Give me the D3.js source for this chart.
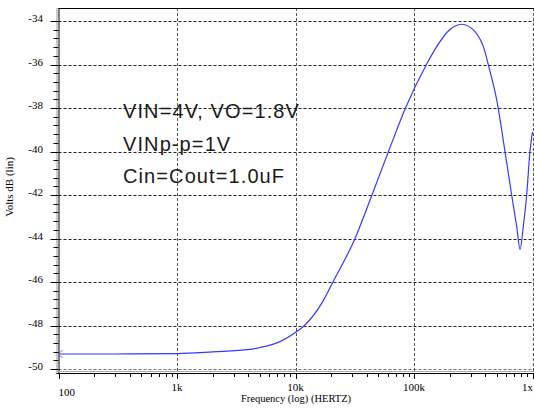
<!DOCTYPE html>
<html><head><meta charset="utf-8">
<script src="https://cdn.jsdelivr.net/npm/d3@7/dist/d3.min.js"></script>
<style>
html,body{margin:0;padding:0;background:#fff;}
svg{display:block;}
</style>
</head><body>
<svg id="chart" width="534" height="408"></svg>
<script>
// ---- data ----
const freqHz = [100, 300, 1000, 2000, 4100, 5000, 6100, 7400, 10100, 11800, 17100, 20700, 31800, 44200, 60900, 84800, 127400, 155500, 194700, 253000, 327000, 397000, 424000, 499000, 586000, 667000, 736000, 785000, 836000, 893000, 952000, 1000000];
const voltsDb = [-49.31, -49.31, -49.29, -49.21, -49.10, -49.01, -48.90, -48.74, -48.30, -48.02, -46.87, -46.0, -44.0, -42.0, -40.0, -38.0, -36.0, -35.18, -34.46, -34.15, -34.49, -35.41, -36.02, -37.63, -40.0, -42.0, -43.46, -44.5, -43.46, -42.0, -40.0, -39.1];
const yTicks = [-50, -48, -46, -44, -42, -40, -38, -36, -34];
const xTickValues = [100, 1000, 10000, 100000, 1000000];
const xTickLabels = ["100", "1k", "10k", "100k", "1x"];
const annotations = ["VIN=4V, VO=1.8V", "VINp-p=1V", "Cin=Cout=1.0uF"];
const xTitle = "Frequency (log) (HERTZ)";
const yTitle = "Volts dB (lin)";

// ---- layout ----
const svg = d3.select("#chart");
const pL = 58.5, pR = 532.5, pT = 8, pB = 373;
const x = d3.scaleLog().domain([100, 1e6]).range([pL, pR]);
const y = d3.scaleLinear().domain([-50, -34]).range([369, 21]);
const serif = "'Liberation Serif','DejaVu Serif',serif";

// horizontal gridlines
svg.append("g").selectAll("line").data(yTicks).join("line")
  .attr("x1", pL).attr("x2", 534)
  .attr("y1", d => Math.round(y(d)) + 0.5).attr("y2", d => Math.round(y(d)) + 0.5)
  .attr("stroke", d => d === -50 ? "#777" : "#222").attr("stroke-width", 1)
  .attr("stroke-dasharray", "3,2");

// vertical gridlines
svg.append("g").selectAll("line").data(xTickValues.slice(1)).join("line")
  .attr("x1", d => Math.round(x(d)) + 0.5).attr("x2", d => Math.round(x(d)) + 0.5)
  .attr("y1", pT).attr("y2", pB)
  .attr("stroke", "#555").attr("stroke-width", 1)
  .attr("stroke-dasharray", "3,2");

// top border
svg.append("line").attr("x1", pL).attr("x2", 534).attr("y1", pT + 0.5).attr("y2", pT + 0.5)
  .attr("stroke", "#000");

// left axis (double line)
svg.append("line").attr("x1", pL - 1.5).attr("x2", pL - 1.5).attr("y1", pT).attr("y2", pB + 1)
  .attr("stroke", "#999");
svg.append("line").attr("x1", pL + 0.5).attr("x2", pL + 0.5).attr("y1", pT).attr("y2", pB + 1)
  .attr("stroke", "#000");

// bottom axis (double line)
svg.append("line").attr("x1", pL - 2).attr("x2", 534).attr("y1", pB - 1.5).attr("y2", pB - 1.5)
  .attr("stroke", "#aaa");
svg.append("line").attr("x1", pL - 2).attr("x2", 534).attr("y1", pB + 0.5).attr("y2", pB + 0.5)
  .attr("stroke", "#000");

// y minor/major ticks
const yMinor = d3.range(-50, -33.6, 0.4).map(v => +v.toFixed(1));
svg.append("g").selectAll("line").data(yMinor).join("line")
  .attr("x1", d => Math.abs(d % 2) < 1e-6 ? pL - 8 : pL - 5).attr("x2", pL)
  .attr("y1", d => Math.round(y(d)) + 0.5).attr("y2", d => Math.round(y(d)) + 0.5)
  .attr("stroke", "#000");

svg.append("g").selectAll("text").data(yTicks).join("text")
  .attr("x", 43).attr("y", d => y(d) + 1)
  .attr("text-anchor", "end")
  .attr("font-family", serif).attr("font-size", 11).attr("fill", "#000")
  .text(d => d);

// x ticks
const xMinor = [];
for (let dec = 100; dec < 1e6; dec *= 10) for (let m = 1; m <= 9; m++) xMinor.push(dec * m);
xMinor.push(1e6);
svg.append("g").selectAll("line").data(xMinor).join("line")
  .attr("x1", d => Math.round(x(d)) + 0.5).attr("x2", d => Math.round(x(d)) + 0.5)
  .attr("y1", pB).attr("y2", d => xTickValues.includes(d) ? pB + 6 : pB + 4)
  .attr("stroke", "#000");

const lastI = xTickValues.length - 1;
svg.append("g").selectAll("text").data(xTickValues).join("text")
  .attr("x", (d, i) => i === 0 ? x(d) : (i === lastI ? 533 : x(d)))
  .attr("y", (d, i) => i === 0 ? 396 : 391)
  .attr("text-anchor", (d, i) => i === 0 ? "start" : (i === lastI ? "end" : "middle"))
  .attr("font-family", serif).attr("font-size", 11).attr("fill", "#000")
  .text((d, i) => xTickLabels[i]);

// axis titles
svg.append("text").attr("x", 296).attr("y", 402).attr("text-anchor", "middle")
  .attr("font-family", serif).attr("font-size", 10.5).attr("fill", "#000").text(xTitle);
svg.append("text").attr("transform", "translate(13,187) rotate(-90)").attr("text-anchor", "middle")
  .attr("font-family", serif).attr("font-size", 11).attr("fill", "#000").text(yTitle);

// curve
const pts = freqHz.map((f, i) => [f, voltsDb[i]]);
const line = d3.line().x(d => x(d[0])).y(d => y(d[1])).curve(d3.curveMonotoneX);
svg.append("path").datum(pts).attr("d", line)
  .attr("fill", "none").attr("stroke", "#3838ff").attr("stroke-width", 1.2);

// start marker
const sx = x(freqHz[0]), sy = y(voltsDb[0]);
svg.append("path")
  .attr("d", `M${sx + 4},${sy - 4}L${sx},${sy}L${sx + 4},${sy + 4}`)
  .attr("fill", "none").attr("stroke", "#6a6aff").attr("stroke-width", 1);

// annotations
svg.append("g").selectAll("text").data(annotations).join("text")
  .attr("x", 123).attr("y", (d, i) => 118 + i * 32.5)
  .attr("font-family", "'Liberation Sans',Arial,sans-serif").attr("font-size", 20)
  .attr("letter-spacing", 1.1).attr("fill", "#1a1a1a")
  .text(d => d);
</script>
</body></html>
